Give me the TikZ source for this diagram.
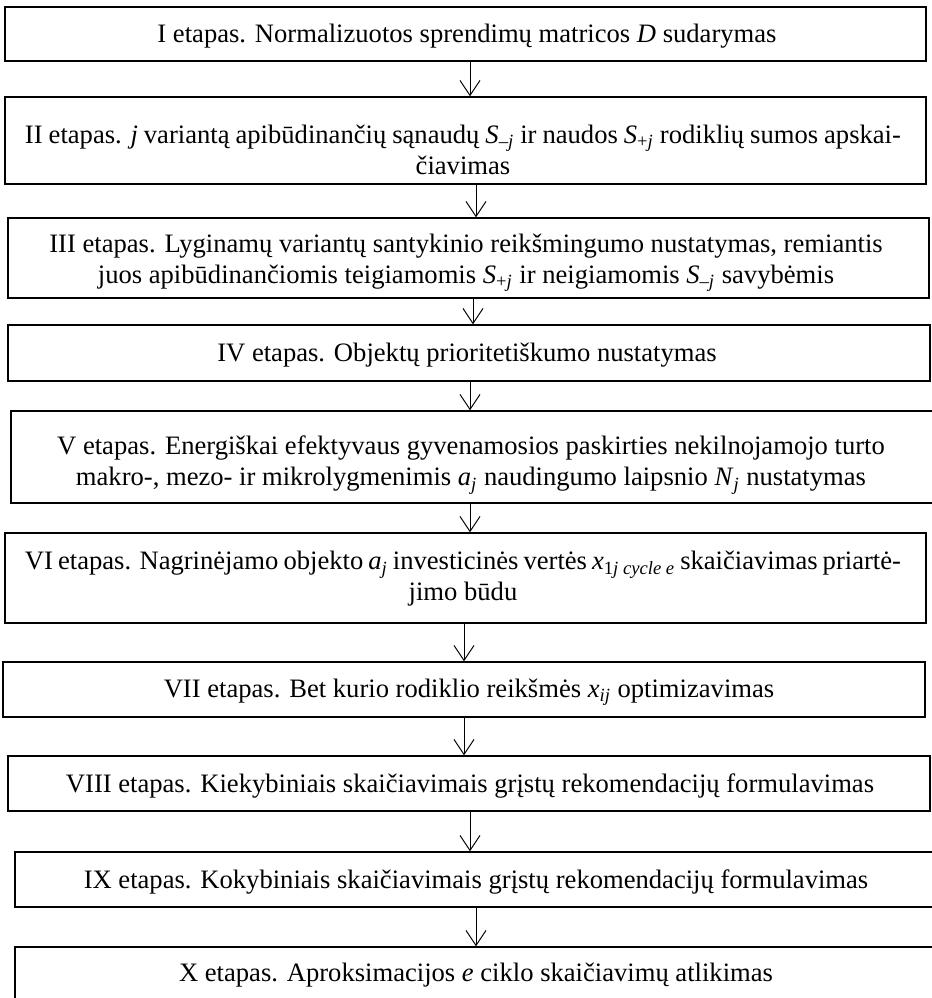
\documentclass[tikz,border=0pt]{standalone}
\usepackage{fontspec}
\setmainfont{Liberation Serif}
\usepackage{tikz}
\usetikzlibrary{arrows.meta,fit}
\tikzset{
  every picture/.style={
    line join=miter,
  },
  etapas/.style={draw, line width=0.7pt, inner sep=0pt},
  tekstas/.style={align=center, inner sep=0pt, font=\fontsize{13.3}{15.5}\selectfont},
  pil/.style={->, line width=0.5pt},
}
\newcommand{\sub}[1]{\textsubscript{#1}}

\begin{document}
\begin{tikzpicture}[x=0.5pt, y=-0.5pt, >={Straight Barb[length=7.5pt,width=10pt]}]
    \useasboundingbox (0,0) rectangle (932,998);

    % Boxes
    \node[etapas, fit={(5,7) (926,61)}] (e1) {};
    \node[etapas, fit={(5,97) (926,184)}] (e2) {};
    \node[etapas, fit={(8,218) (929,298)}] (e3) {};
    \node[etapas, fit={(8,325) (930,381)}] (e4) {};
    \node[etapas, fit={(11,411) (940,503)}] (e5) {};
    \node[etapas, fit={(5,533) (926,623)}] (e6) {};
    \node[etapas, fit={(3,662) (925,717)}] (e7) {};
    \node[etapas, fit={(8,756) (930,811)}] (e8) {};
    \node[etapas, fit={(15,852) (940,907)}] (e9) {};
    \node[etapas, fit={(15,947) (940,1005)}] (e10) {};

    % Texts
    \node[tekstas] (t1) at (467,36) {I etapas. Normalizuotos sprendimų matricos \textit{D} sudarymas};
    \node[tekstas] (t2) at (463,150) {\makebox[438pt][s]{II etapas. \textit{j} variantą apibūdinančių sąnaudų \textit{S}\sub{–\textit{j}} ir naudos \textit{S}\sub{+\textit{j}} rodiklių sumos apskai-}\\čiavimas};
    \node[tekstas] (t3) at (466,263) {III etapas. Lyginamų variantų santykinio reikšmingumo nustatymas, remiantis\\juos apibūdinančiomis teigiamomis \textit{S}\sub{+\textit{j}} ir neigiamomis \textit{S}\sub{–\textit{j}} savybėmis};
    \node[tekstas] (t4) at (467,355) {IV etapas. Objektų prioritetiškumo nustatymas};
    \node[tekstas] (t5) at (471,465) {V etapas. Energiškai efektyvaus gyvenamosios paskirties nekilnojamojo turto\\makro-, mezo- ir mikrolygmenimis \textit{a}\sub{\textit{j}} naudingumo laipsnio \textit{N}\sub{\textit{j}} nustatymas};
    \node[tekstas] (t6) at (463,579) {\makebox[438pt][s]{VI etapas. Nagrinėjamo objekto \textit{a}\sub{\textit{j}} investicinės vertės \textit{x}\sub{1\textit{j cycle e}} skaičiavimas priartė-}\\jimo būdu};
    \node[tekstas] (t7) at (469,692) {VII etapas. Bet kurio rodiklio reikšmės \textit{x}\sub{\textit{ij}} optimizavimas};
    \node[tekstas] (t8) at (470,786) {VIII etapas. Kiekybiniais skaičiavimais grįstų rekomendacijų formulavimas};
    \node[tekstas] (t9) at (476,882) {IX etapas. Kokybiniais skaičiavimais grįstų rekomendacijų formulavimas};
    \node[tekstas] (t10) at (476,975) {X etapas. Aproksimacijos \textit{e} ciklo skaičiavimų atlikimas};

    % Arrows
    \foreach \a/\b/\x in {e1/e2/470, e2/e3/476, e3/e4/473, e4/e5/470, e5/e6/470,
                          e6/e7/464, e7/e8/464, e8/e9/470, e9/e10/476}
        \draw[pil] (\x,0 |- \a.south) -- (\x,0 |- \b.north);
\end{tikzpicture}
\end{document}
